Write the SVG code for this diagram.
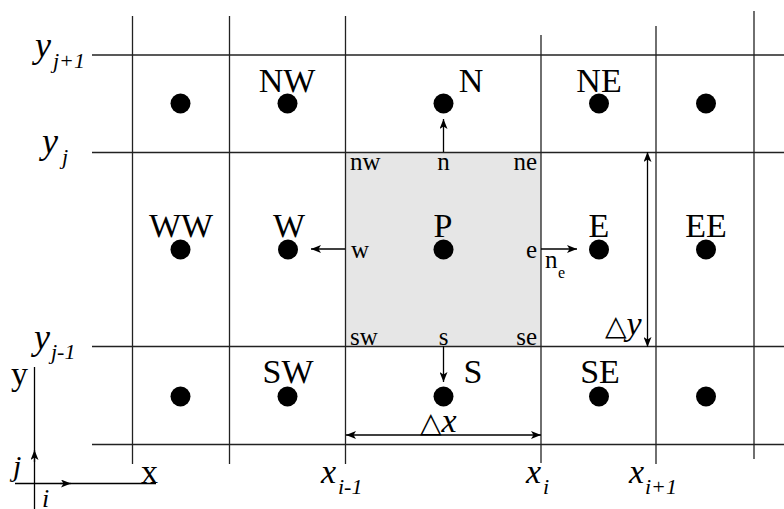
<svg xmlns="http://www.w3.org/2000/svg" width="784" height="509" viewBox="0 0 784 509">
<style>
.grid{stroke:#222;stroke-width:1.3;fill:none}
.arr{stroke:#000;stroke-width:1.3;fill:none}
.dot{fill:#000}
.lbl{font-family:"Liberation Serif","DejaVu Serif",serif;font-size:34px;fill:#000;text-anchor:middle}
.sm{font-family:"Liberation Serif","DejaVu Serif",serif;font-size:25px;fill:#000}
.it{font-family:"Liberation Serif","DejaVu Serif",serif;font-style:italic;fill:#000}
.up{font-family:"Liberation Serif","DejaVu Serif",serif;fill:#000}
</style>
<defs>
<marker id="ah" viewBox="0 0 10 8" refX="10" refY="4" markerWidth="10" markerHeight="8" markerUnits="userSpaceOnUse" orient="auto-start-reverse">
<path d="M0,0 L10,4 L0,8 L2.5,4 z" fill="#000"/>
</marker>
</defs>
<rect id="cell-P" x="345" y="152" width="196" height="194" fill="#e6e6e6"/>
<g id="grid">
<line class="grid" x1="92" y1="55" x2="784" y2="55"/>
<line class="grid" x1="92" y1="152.5" x2="784" y2="152.5"/>
<line class="grid" x1="92" y1="346.5" x2="784" y2="346.5"/>
<line class="grid" x1="92" y1="444.5" x2="784" y2="444.5"/>
<line class="grid" x1="132.5" y1="16" x2="132.5" y2="464"/>
<line class="grid" x1="229.5" y1="16" x2="229.5" y2="464"/>
<line class="grid" x1="345.5" y1="16" x2="345.5" y2="464"/>
<line class="grid" x1="541" y1="35" x2="541" y2="463"/>
<line class="grid" x1="656" y1="26" x2="656" y2="464"/>
<line class="grid" x1="754" y1="11" x2="754" y2="459"/>
</g>
<g id="node-NW"><circle class="dot" cx="287.5" cy="103.5" r="10"/><text class="lbl" x="287" y="92">NW</text></g>
<g id="node-N"><circle class="dot" cx="443.5" cy="103.5" r="10"/><text class="lbl" x="471" y="92">N</text></g>
<g id="node-NE"><circle class="dot" cx="599" cy="103.5" r="10"/><text class="lbl" x="599" y="92">NE</text></g>
<g id="node-NWW"><circle class="dot" cx="180.5" cy="103.5" r="10"/></g>
<g id="node-NEE"><circle class="dot" cx="706" cy="103.5" r="10"/></g>
<g id="node-WW"><circle class="dot" cx="180.5" cy="249.5" r="10"/><text class="lbl" x="181" y="237">WW</text></g>
<g id="node-W"><circle class="dot" cx="288" cy="249.5" r="10"/><text class="lbl" x="289" y="237">W</text></g>
<g id="node-P"><circle class="dot" cx="443.5" cy="249.5" r="10"/><text class="lbl" x="443" y="237">P</text></g>
<g id="node-E"><circle class="dot" cx="599" cy="249.5" r="10"/><text class="lbl" x="599" y="237">E</text></g>
<g id="node-EE"><circle class="dot" cx="706" cy="249.5" r="10"/><text class="lbl" x="706" y="237">EE</text></g>
<g id="node-SWW"><circle class="dot" cx="180.5" cy="396.5" r="10"/></g>
<g id="node-SW"><circle class="dot" cx="287.5" cy="396.5" r="10"/><text class="lbl" x="288" y="383">SW</text></g>
<g id="node-S"><circle class="dot" cx="443.5" cy="396.5" r="10"/><text class="lbl" x="473" y="383">S</text></g>
<g id="node-SE"><circle class="dot" cx="599" cy="396.5" r="10"/><text class="lbl" x="600" y="383">SE</text></g>
<g id="node-SEE"><circle class="dot" cx="706" cy="396.5" r="10"/></g>
<g id="face-labels">
<text class="sm" x="350" y="170">nw</text>
<text class="sm" x="443.5" y="170" text-anchor="middle">n</text>
<text class="sm" x="537" y="170" text-anchor="end">ne</text>
<text class="sm" x="351" y="258">w</text>
<text class="sm" x="537" y="258" text-anchor="end">e</text>
<text class="sm" x="350" y="345">sw</text>
<text class="sm" x="443.5" y="345" text-anchor="middle">s</text>
<text class="sm" x="537" y="345" text-anchor="end">se</text>
<text class="sm" x="545" y="268">n<tspan font-size="16" x="558" y="278">e</tspan></text>
</g>
<g id="connectors">
<line class="arr" x1="443.5" y1="152" x2="443.5" y2="119" marker-end="url(#ah)"/>
<line class="arr" x1="345" y1="249" x2="311" y2="249" marker-end="url(#ah)"/>
<line class="arr" x1="541" y1="249" x2="577" y2="249" marker-end="url(#ah)"/>
<line class="arr" x1="443.5" y1="346" x2="443.5" y2="382" marker-end="url(#ah)"/>
<line class="arr" x1="346" y1="435" x2="541" y2="435" marker-start="url(#ah)" marker-end="url(#ah)"/>
<line class="arr" x1="647.5" y1="152" x2="647.5" y2="347" marker-start="url(#ah)" marker-end="url(#ah)"/>
<line class="arr" x1="34.5" y1="367" x2="34.5" y2="509"/>
<line class="arr" x1="34.5" y1="462" x2="34.5" y2="450" marker-end="url(#ah)"/>
<line class="arr" x1="15" y1="483.5" x2="156" y2="483.5"/>
<line class="arr" x1="60" y1="483.5" x2="71" y2="483.5" marker-end="url(#ah)"/>
</g>
<g id="dim-labels">
<text class="up" x="420" y="432" font-size="28">△<tspan class="it" font-size="34">x</tspan></text>
<text class="up" x="605" y="335" font-size="28">△<tspan class="it" font-size="34">y</tspan></text>
</g>
<g id="axis-labels">
<text class="it" font-size="36" x="35" y="57">y<tspan font-size="22" x="53" y="68">j+1</tspan></text>
<text class="it" font-size="36" x="42" y="153">y<tspan font-size="22" x="62" y="164">j</tspan></text>
<text class="it" font-size="36" x="34" y="349">y<tspan font-size="22" x="51" y="359">j-1</tspan></text>
<text class="it" font-size="34" x="321" y="483">x<tspan font-size="22" x="338" y="494">i-1</tspan></text>
<text class="it" font-size="34" x="526" y="483">x<tspan font-size="22" x="543" y="494">i</tspan></text>
<text class="it" font-size="34" x="629" y="483">x<tspan font-size="22" x="645" y="494">i+1</tspan></text>
<text class="up" font-size="34" x="11" y="385">y</text>
<text class="up" font-size="34" x="141" y="483">x</text>
<text class="it" font-size="30" x="13" y="476">j</text>
<text class="it" font-size="26" x="42" y="507">i</text>
</g>
</svg>
